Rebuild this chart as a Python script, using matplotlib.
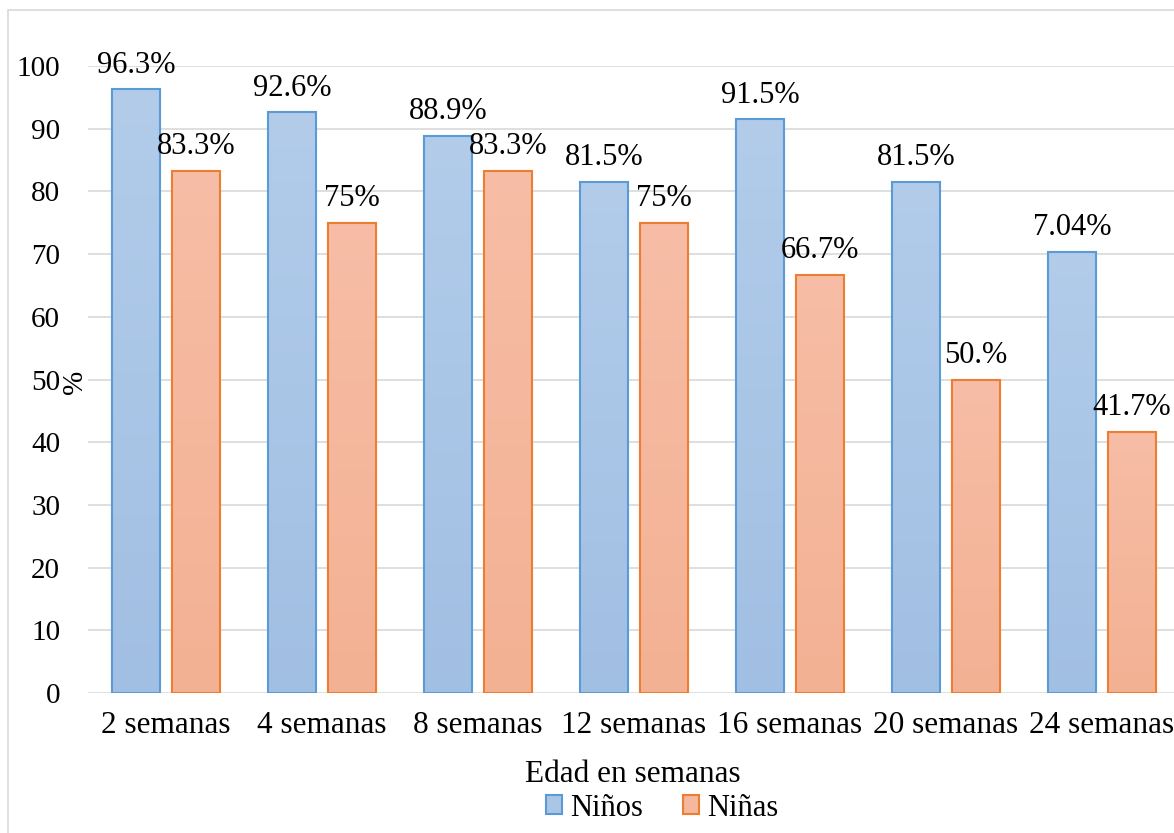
import numpy as np
import matplotlib
matplotlib.use("Agg")
import matplotlib.pyplot as plt
from matplotlib.colors import LinearSegmentedColormap
from matplotlib.patches import Patch, Rectangle

# datos
semanas = ["2 semanas", "4 semanas", "8 semanas", "12 semanas",
           "16 semanas", "20 semanas", "24 semanas"]
ninos = [96.3, 92.6, 88.9, 81.5, 91.5, 81.5, 70.4]
ninas = [83.3, 75, 83.3, 75, 66.7, 50, 41.7]
etiquetas_ninos = ["96.3%", "92.6%", "88.9%", "81.5%", "91.5%", "81.5%", "7.04%"]
etiquetas_ninas = ["83.3%", "75%", "83.3%", "75%", "66.7%", "50.%", "41.7%"]

plt.rcParams['font.family'] = ['Liberation Serif', 'DejaVu Serif']

W, H = 1174, 833
fig = plt.figure(figsize=(W / 100, H / 100), dpi=100)
ax = fig.add_axes([88 / W, (H - 693) / H, 1092 / W, 627 / H])

# borde gris del área del gráfico
fig.patches.append(Rectangle((8 / W, -0.02), 1.2, 1.02 - 10 / H, transform=fig.transFigure,
                             fill=False, edgecolor='#d9d9d9', linewidth=1.2))

x = np.arange(len(semanas))
ancho = 0.308
desp = 0.192

azul = LinearSegmentedColormap.from_list("azul", ["#a1bfe3", "#b2ccea"])
naranja = LinearSegmentedColormap.from_list("naranja", ["#f3b193", "#f7bda6"])
grad = np.linspace(0, 1, 256).reshape(-1, 1)

barras_a = ax.bar(x - desp, ninos, ancho, facecolor='none', edgecolor='#5b9bd5',
                  linewidth=1.5, zorder=3)
barras_b = ax.bar(x + desp, ninas, ancho, facecolor='none', edgecolor='#ed7d31',
                  linewidth=1.5, zorder=3)

for barras, cmap in ((barras_a, azul), (barras_b, naranja)):
    for b in barras:
        im = ax.imshow(grad, extent=[b.get_x(), b.get_x() + b.get_width(), 0, b.get_height()],
                       origin='lower', aspect='auto', cmap=cmap, zorder=2)
        im.set_clip_path(b)

for b, t in zip(barras_a, etiquetas_ninos):
    ax.annotate(t, (b.get_x() + b.get_width() / 2, b.get_height()), xytext=(0, 12),
                textcoords='offset points', ha='center', va='baseline', fontsize=22,
                clip_on=False, annotation_clip=False)
for b, t in zip(barras_b, etiquetas_ninas):
    ax.annotate(t, (b.get_x() + b.get_width() / 2, b.get_height()), xytext=(0, 12),
                textcoords='offset points', ha='center', va='baseline', fontsize=22,
                clip_on=False, annotation_clip=False)

ax.set_xlim(-0.5, len(semanas) - 0.5)
ax.set_ylim(0, 100)
ax.set_yticks(range(0, 101, 10))
ax.set_xticks(x)
ax.set_xticklabels(semanas)
ax.tick_params(axis='y', length=0, pad=20, labelsize=21)
ax.tick_params(axis='x', length=0, pad=13, labelsize=22.5)
ax.grid(axis='y', color='#d9d9d9', linewidth=1.2, zorder=0)
ax.set_axisbelow(True)
for s in ax.spines.values():
    s.set_visible(False)

fig.text(75 / W, 1 - 382 / H, '%', rotation=90, ha='center', va='center', fontsize=21)
fig.text(633 / W, 1 - 775 / H, "Edad en semanas", ha='center', va='center', fontsize=22.5)

handles = [Patch(facecolor='#aac6e7', edgecolor='#5b9bd5', linewidth=1.5, label='Niños'),
           Patch(facecolor='#f5b79d', edgecolor='#ed7d31', linewidth=1.5, label='Niñas')]
fig.legend(handles=handles, loc='center', bbox_to_anchor=(662 / W, 1 - 808 / H), ncol=2,
           frameon=False, fontsize=22, handlelength=0.55, handleheight=0.55,
           handletextpad=0.25, columnspacing=1.3, borderpad=0)

fig.savefig("out.png", dpi=100)
